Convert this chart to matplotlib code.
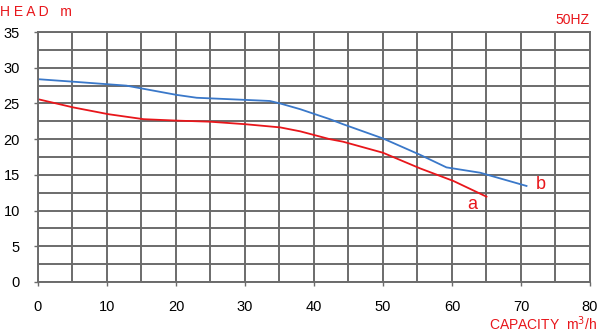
import matplotlib
matplotlib.use('Agg')
import matplotlib.pyplot as plt
import numpy as np

# curve b (blue)
b_q = [0, 5.1, 12.8, 20.1, 23, 33.6, 35.1, 38, 42.3, 44.2, 50, 55.4, 59.2, 64.1, 70.8]
b_h = [28.4, 28.05, 27.5, 26.2, 25.8, 25.35, 25.0, 24.2, 22.8, 22.1, 20.1, 17.8, 16.05, 15.3, 13.45]
# curve a (red)
a_q = [0, 5.1, 10.2, 15.3, 20.1, 24.9, 30, 35.1, 38, 42.3, 44.2, 50, 55.4, 60.2, 65]
a_h = [25.6, 24.45, 23.5, 22.8, 22.6, 22.45, 22.1, 21.65, 21.1, 20.0, 19.65, 18.1, 15.9, 14.15, 11.95]

xticks = [0, 10, 20, 30, 40, 50, 60, 70, 80]
yticks = [0, 5, 10, 15, 20, 25, 30, 35]

red = '#e8161b'
blue = '#3a78c9'
grid_c = '#6b6b6b'

plt.rcParams['font.family'] = ['Liberation Sans', 'DejaVu Sans']

fig = plt.figure(figsize=(6, 3.34), dpi=100)
ax = fig.add_axes([0.0633, 0.1557, 0.92, 0.7483])

ax.plot(b_q, b_h, color=blue, lw=1.3)
ax.plot(a_q, a_h, color=red, lw=1.3)

ax.set_xlim(0, 80)
ax.set_ylim(0, 35)
ax.set_xticks(xticks)
ax.set_yticks(yticks)
ax.set_xticks(np.arange(0, 81, 5), minor=True)
ax.set_yticks(np.arange(0, 35.1, 2.5), minor=True)
ax.grid(which='both', color=grid_c, lw=1.4)
ax.set_axisbelow(True)
ax.tick_params(which='major', length=3, width=1, color=grid_c, labelsize=10.5, pad=10)
ax.tick_params(which='minor', length=0)
for s in ax.spines.values():
    s.set_color(grid_c)
    s.set_linewidth(1.4)

ax.text(63, 10.8, 'a', color=red, fontsize=13, ha='center', va='center')
ax.text(72.9, 13.6, 'b', color=red, fontsize=13, ha='center', va='center')

fig.text(0.0, 0.985, 'H E A D   m', color=red, fontsize=10, ha='left', va='top')
fig.text(0.983, 0.94, '50HZ', color=red, fontsize=10, ha='right', va='center')
fig.text(0.995, 0.004, 'CAPACITY  m$^3$/h', color=red, fontsize=10, ha='right', va='bottom')

fig.savefig('out.png', dpi=100)
